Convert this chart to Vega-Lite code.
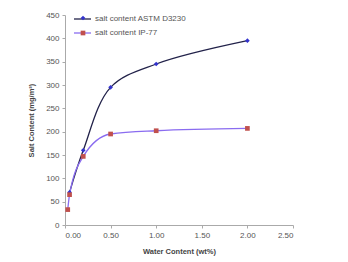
{
  "$schema": "https://vega.github.io/schema/vega-lite/v6.json",
  "width": 228,
  "height": 210,
  "autosize": {"type": "none"},
  "padding": {"left": 65, "top": 15, "right": 55, "bottom": 37},
  "background": "white",
  "data": {"values": [
    {"series": "salt content ASTM D3230", "x": 0.05, "y": 70},
    {"series": "salt content ASTM D3230", "x": 0.2, "y": 160},
    {"series": "salt content ASTM D3230", "x": 0.5, "y": 295},
    {"series": "salt content ASTM D3230", "x": 1.0, "y": 345},
    {"series": "salt content ASTM D3230", "x": 2.0, "y": 395},
    {"series": "salt content IP-77", "x": 0.03, "y": 33},
    {"series": "salt content IP-77", "x": 0.05, "y": 65},
    {"series": "salt content IP-77", "x": 0.2, "y": 147},
    {"series": "salt content IP-77", "x": 0.5, "y": 195},
    {"series": "salt content IP-77", "x": 1.0, "y": 202},
    {"series": "salt content IP-77", "x": 2.0, "y": 207}
  ]},
  "encoding": {
    "x": {"field": "x", "type": "quantitative", "scale": {"domain": [0, 2.5], "nice": false},
      "axis": {"values": [0, 0.5, 1, 1.5, 2, 2.5], "format": ".2f", "title": "Water Content (wt%)", "grid": false, "titlePadding": 8}},
    "y": {"field": "y", "type": "quantitative", "scale": {"domain": [0, 450], "nice": false},
      "axis": {"values": [0, 50, 100, 150, 200, 250, 300, 350, 400, 450], "title": "Salt Content (mg/m³)", "grid": false, "titlePadding": 10}}
  },
  "layer": [
    {"transform": [{"filter": "datum.series === 'salt content ASTM D3230'"}],
     "mark": {"type": "line", "interpolate": "catmull-rom", "strokeWidth": 1.3},
     "encoding": {
       "stroke": {"field": "series", "type": "nominal", "scale": {"domain": ["salt content ASTM D3230", "salt content IP-77"], "range": ["#22224a", "#8a6cf0"]},
         "legend": {"orient": "none", "legendX": 8, "legendY": -5.5, "padding": 0, "title": null, "rowPadding": -2, "symbolType": "stroke", "symbolSize": 289, "symbolStrokeWidth": 1.3, "labelOffset": 3}}
     }},
    {"transform": [{"filter": "datum.series === 'salt content IP-77'"}],
     "mark": {"type": "line", "interpolate": "monotone", "strokeWidth": 1.3},
     "encoding": {
       "stroke": {"field": "series", "type": "nominal"}
     }},
    {"mark": {"type": "point", "filled": true, "size": 22, "opacity": 1},
     "encoding": {
       "color": {"field": "series", "type": "nominal", "scale": {"range": ["#3333cc", "#c0504d"]},
         "legend": {"orient": "none", "legendX": 14, "legendY": -1, "padding": 0, "title": null, "rowPadding": 7, "symbolSize": 22, "labelExpr": "''", "labelOffset": 3}},
       "shape": {"field": "series", "type": "nominal", "scale": {"range": ["diamond", "square"]},
         "legend": {"orient": "none", "legendX": 14, "legendY": -1, "padding": 0, "title": null, "rowPadding": 7, "symbolSize": 22, "labelExpr": "''", "labelOffset": 3}}
     }}
  ],
  "config": {
    "font": "Liberation Sans",
    "view": {"stroke": null},
    "axis": {"labelFontSize": 8, "labelColor": "#555555", "titleFontSize": 7.5, "titleColor": "#444444", "titleFontWeight": "bold", "domainColor": "#aaaaaa", "tickColor": "#aaaaaa", "tickSize": 3, "labelPadding": 3},
    "legend": {"labelFontSize": 8, "labelColor": "#555555"}
  }
}
